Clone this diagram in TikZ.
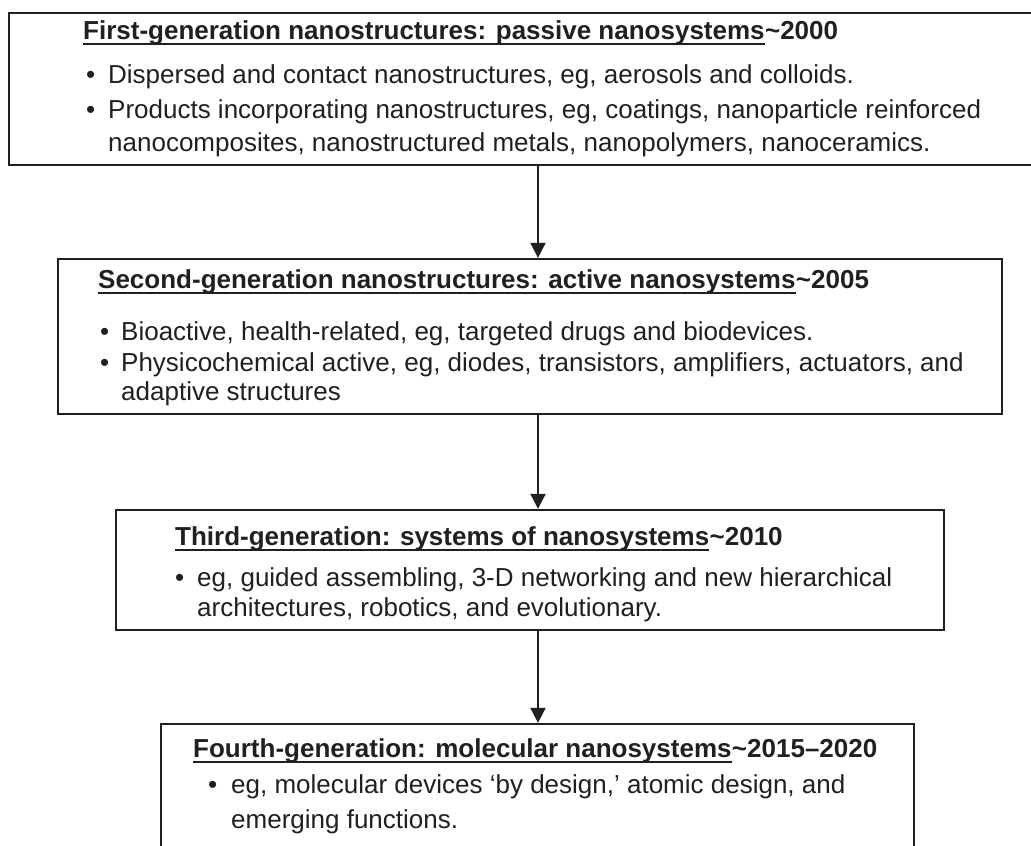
\documentclass[tikz,border=0pt]{standalone}
\usepackage{fontspec}
\setmainfont{Liberation Sans}
\usetikzlibrary{arrows.meta}
\definecolor{ink}{HTML}{231F20}
\begin{document}
\begin{tikzpicture}[x=1pt,y=-1pt,
  box/.style={draw=ink, line width=2.3pt, inner sep=0pt},
  ttl/.style={inner sep=0pt, anchor=base west, font=\fontsize{26}{31}\selectfont\bfseries, text=ink},
  txt/.style={inner sep=0pt, anchor=base west, font=\fontsize{26}{31}\selectfont, text=ink},
  uline/.style={draw=ink, line width=2pt},
  arr/.style={draw=ink, line width=2pt, -{Triangle[width=15pt,length=15pt]}}]
\useasboundingbox (0,0) rectangle (1031,846);
\fill[white] (0,0) rectangle (1031,846);
% boxes
\node[box, minimum width=1031pt, minimum height=152pt] (b1) at (524.5,89) {};
\node[box, minimum width=944pt, minimum height=155pt] (b2) at (530,336.5) {};
\node[box, minimum width=828pt, minimum height=120pt] (b3) at (530,570) {};
\node[box, minimum width=753pt, minimum height=156pt] (b4) at (537.5,802) {};
% arrows
\coordinate (ax) at (538,0);
\draw[arr] (b1.south -| ax) -- (b2.north -| ax);
\draw[arr] (b2.south -| ax) -- (b3.north -| ax);
\draw[arr] (b3.south -| ax) -- (b4.north -| ax);
% box 1
\node[ttl] (t1) at (83,39) {First-generation nanostructures: passive nanosystems};
\node[ttl] (y1) at (t1.base east) {\textasciitilde2000};
\draw[uline] ([yshift=-4.5pt]t1.base west) -- ([yshift=-4.5pt]t1.base east);
\node[txt] (p11) at (86,83) {\textbullet};
\node[txt] (l11) at (108,83) {Dispersed and contact nanostructures, eg, aerosols and colloids.};
\node[txt] (p12) at (86,118) {\textbullet};
\node[txt] (l12) at (108,118) {Products incorporating nanostructures, eg, coatings, nanoparticle reinforced};
\node[txt] (l13) at (108,151) {nanocomposites, nanostructured metals, nanopolymers, nanoceramics.};
% box 2
\node[ttl] (t2) at (98,288) {Second-generation nanostructures: active nanosystems};
\node[ttl] (y2) at (t2.base east) {\textasciitilde2005};
\draw[uline] ([yshift=-4.5pt]t2.base west) -- ([yshift=-4.5pt]t2.base east);
\node[txt] (p21) at (100,340) {\textbullet};
\node[txt] (l21) at (121,340) {Bioactive, health-related, eg, targeted drugs and biodevices.};
\node[txt] (p22) at (100,371) {\textbullet};
\node[txt] (l22) at (121,371) {Physicochemical active, eg, diodes, transistors, amplifiers, actuators, and};
\node[txt] (l23) at (121,400) {adaptive structures};
% box 3
\node[ttl] (t3) at (175,545) {Third-generation: systems of nanosystems};
\node[ttl] (y3) at (t3.base east) {\textasciitilde2010};
\draw[uline] ([yshift=-4.5pt]t3.base west) -- ([yshift=-4.5pt]t3.base east);
\node[txt] (p31) at (175,586) {\textbullet};
\node[txt] (l31) at (197,586) {eg, guided assembling, 3-D networking and new hierarchical};
\node[txt] (l32) at (197,616) {architectures, robotics, and evolutionary.};
% box 4
\node[ttl] (t4) at (193,757) {Fourth-generation: molecular nanosystems};
\node[ttl] (y4) at (t4.base east) {\textasciitilde2015–2020};
\draw[uline] ([yshift=-4.5pt]t4.base west) -- ([yshift=-4.5pt]t4.base east);
\node[txt] (p41) at (208,793) {\textbullet};
\node[txt] (l41) at (231,793) {eg, molecular devices ‘by design,’ atomic design, and};
\node[txt] (l42) at (231,828) {emerging functions.};
\end{tikzpicture}
\end{document}
